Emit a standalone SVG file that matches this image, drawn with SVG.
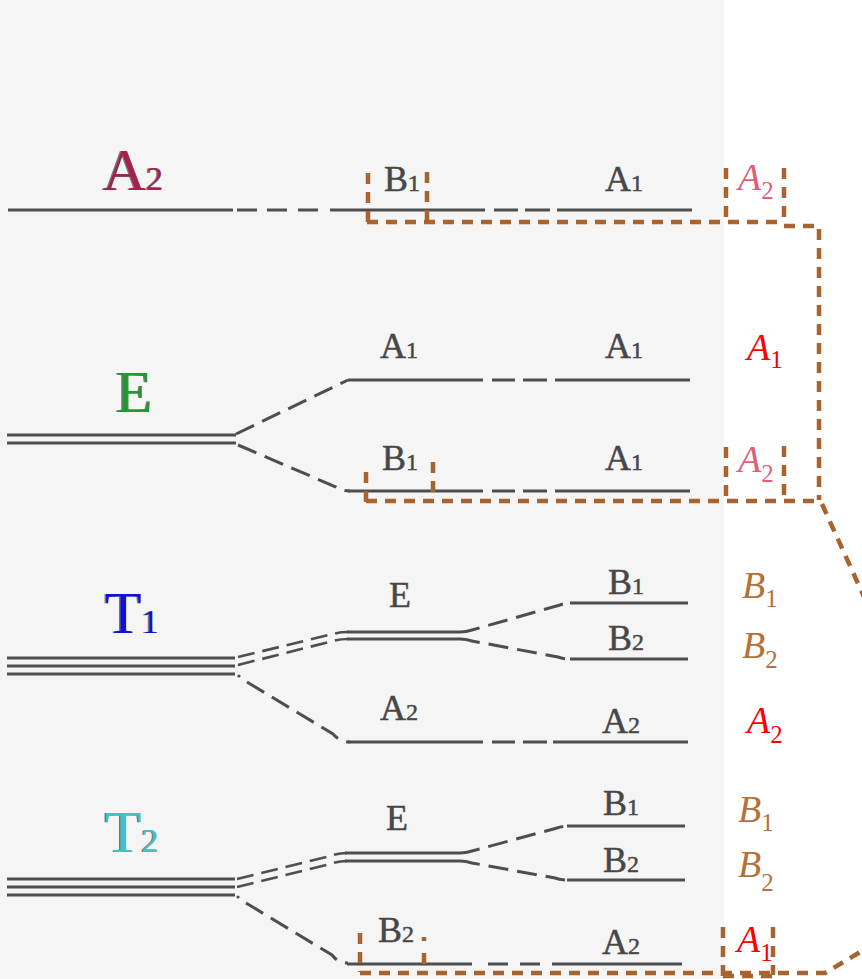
<svg xmlns="http://www.w3.org/2000/svg" width="862" height="979" viewBox="0 0 862 979">
<style>
.lv{stroke:#4e4e4e;stroke-width:3.2;fill:none}
.dg{stroke:#4e4e4e;stroke-width:3;fill:none;stroke-dasharray:20 9}
.dg2{stroke:#4e4e4e;stroke-width:2.6;fill:none;stroke-dasharray:17 8}
.or{stroke:#a8632e;stroke-width:4.5;fill:none;stroke-dasharray:11 8}
text{font-family:'Liberation Serif','Times New Roman',Times,serif}
.gl{font-size:36px;fill:#474747;stroke:#474747;stroke-width:0.5}
.gl tspan{font-size:24px}
.big{font-size:60px}
.big tspan{font-size:34px}
.sh{fill:#777}
.it{font-style:italic;font-size:38px}
.it tspan{font-size:25px;font-style:normal}
.pink{fill:#df5f7b}
.red{fill:#ff0000}
.brn{fill:#b5713b}
</style>
<rect x="0" y="0" width="862" height="979" fill="#ffffff"/>
<rect x="0" y="0" width="724" height="979" fill="#f5f5f5"/>

<g id="level-A2">
<text class="big sh" x="101.5" y="190">A<tspan>2</tspan></text>
<text class="big" x="103" y="190" fill="#a3204f">A<tspan>2</tspan></text>
<path class="lv" d="M8,210 H233 M237,210 H257 M267,210 H287 M298,210 H318 M330,210 H485 M494,210 H518 M525,210 H550 M557,210 H692"/>
<text class="gl" x="384" y="191">B<tspan>1</tspan></text>
<text class="gl" x="605" y="191">A<tspan>1</tspan></text>
</g>

<g id="level-E">
<text class="big sh" x="114.5" y="412">E</text>
<text class="big" x="116" y="412" fill="#1e9a30">E</text>
<path class="lv" d="M7,435 H236 M7,443 H236"/>
</g>
<g id="level-E-A1">
<text class="gl" x="380" y="358">A<tspan>1</tspan></text>
<text class="gl" x="605" y="358">A<tspan>1</tspan></text>
<path class="lv" d="M348,380 H483 M492,380 H515 M523,380 H547 M555,380 H690"/>
</g>
<g id="level-E-B1">
<text class="gl" x="382" y="470">B<tspan>1</tspan></text>
<text class="gl" x="605" y="470">A<tspan>1</tspan></text>
<path class="lv" d="M348,491 H483 M492,491 H515 M523,491 H547 M555,491 H690"/>
</g>

<g id="level-T1">
<text class="big sh" x="103.5" y="633">T<tspan>1</tspan></text>
<text class="big" x="105" y="633" fill="#1010dd">T<tspan>1</tspan></text>
<path class="lv" d="M7,658 H235 M7,666 H235 M7,674 H235"/>
</g>
<g id="level-T1-E">
<text class="gl" x="389" y="607" font-size="38">E</text>
<path class="lv" d="M347,632 H460 M347,639 H460"/>
</g>
<g id="level-T1-B1">
<text class="gl" x="608" y="594">B<tspan>1</tspan></text>
<path class="lv" d="M570,603 H688"/>
</g>
<g id="level-T1-B2">
<text class="gl" x="608" y="650">B<tspan>2</tspan></text>
<path class="lv" d="M570,659 H688"/>
</g>
<g id="level-T1-A2">
<text class="gl" x="380" y="720">A<tspan>2</tspan></text>
<text class="gl" x="602" y="733">A<tspan>2</tspan></text>
<path class="lv" d="M348,742 H483 M492,742 H515 M523,742 H547 M553,742 H688"/>
</g>

<g id="level-T2">
<text class="big sh" x="103.5" y="852">T<tspan>2</tspan></text>
<text class="big" x="105" y="852" fill="#40c2c8">T<tspan>2</tspan></text>
<path class="lv" d="M7,879 H235 M7,887 H235 M7,895 H235"/>
</g>
<g id="level-T2-E">
<text class="gl" x="386" y="830" font-size="38">E</text>
<path class="lv" d="M345,853 H460 M345,861 H460"/>
</g>
<g id="level-T2-B1">
<text class="gl" x="603" y="815">B<tspan>1</tspan></text>
<path class="lv" d="M567,826 H685"/>
</g>
<g id="level-T2-B2">
<text class="gl" x="603" y="872">B<tspan>2</tspan></text>
<path class="lv" d="M567,880 H685"/>
</g>
<g id="level-T2-B2low">
<text class="gl" x="378" y="942">B<tspan>2</tspan></text>
<text class="gl" x="602" y="954">A<tspan>2</tspan></text>
<path class="lv" d="M347,964 H472 M488,964 H508 M520,964 H540 M552,964 H682"/>
</g>

<g id="irrep-labels">
<text class="it pink" x="738" y="190">A<tspan dx="0" dy="9">2</tspan></text>
<text class="it red" x="747" y="360">A<tspan dx="0" dy="8">1</tspan></text>
<text class="it pink" x="738" y="472">A<tspan dx="0" dy="10">2</tspan></text>
<text class="it brn" x="742" y="598">B<tspan dx="0" dy="9">1</tspan></text>
<text class="it brn" x="742" y="658">B<tspan dx="0" dy="10">2</tspan></text>
<text class="it red" x="747" y="733">A<tspan dx="0" dy="10">2</tspan></text>
<text class="it brn" x="738" y="822">B<tspan dx="0" dy="9">1</tspan></text>
<text class="it brn" x="738" y="877">B<tspan dx="0" dy="14">2</tspan></text>
<text class="it red" x="737" y="952">A<tspan dx="0" dy="9">1</tspan></text>
</g>

<g id="connectors">
<path class="dg" d="M236,434 L348,380"/>
<path class="dg" d="M238,445 L336,487 Q341,491 350,491"/>
<path class="dg2" d="M238,657 L333,634 Q340,632 348,632"/>
<path class="dg2" d="M238,665 L333,641 Q340,639 348,639"/>
<path class="dg" d="M460,632 Q466,632 472,630 L560,605 Q565,603 572,603"/>
<path class="dg" d="M460,639 Q466,639 472,641 L558,657 Q563,659 572,659"/>
<circle cx="239" cy="676" r="1.6" fill="#4e4e4e"/>
<path class="dg" d="M247,682 L333,734 Q340,742 350,742"/>
<path class="dg2" d="M237,879 L330,856 Q338,853 347,853"/>
<path class="dg2" d="M237,887 L330,864 Q338,861 347,861"/>
<path class="dg" d="M460,853 Q466,853 472,851 L557,828 Q562,826 569,826"/>
<path class="dg" d="M460,861 Q466,861 472,863 L555,878 Q560,880 569,880"/>
<circle cx="238" cy="897" r="1.6" fill="#4e4e4e"/>
<path class="dg" d="M246,903 L332,955 Q338,963 348,963"/>

<path class="or" d="M368,173 V222 M427,172 V222 M726,168 V222 M784,168 V222 M367,222 H784 M784,226 H819 V500"/>
<path class="or" d="M822,504 L870,610"/>
<path class="or" d="M366,472 V502 M433,462 V500 M366,501 H819 M726,447 V500 M784,446 V500"/>
<path class="or" d="M360,933 V972 M424,937 V941 M424,953 V972 M360,973 H825 L872,945 M723,927 V979 M773,927 V975 M723,976 H773"/>
</g>
</svg>
